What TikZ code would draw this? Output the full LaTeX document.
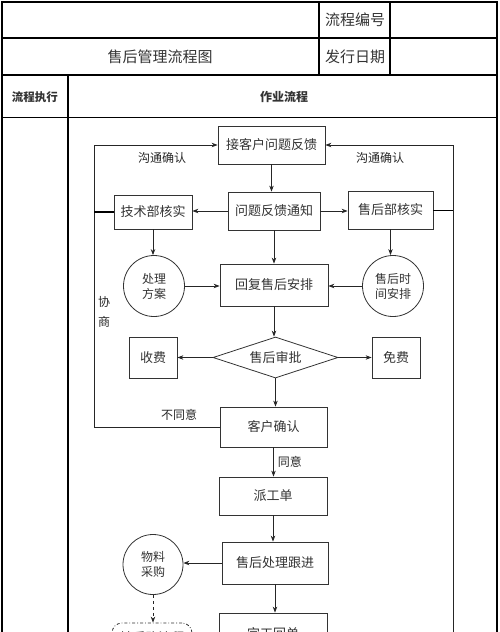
\documentclass[tikz,border=0pt]{standalone}
\usepackage{fontspec}
\setmainfont{Noto Sans CJK SC}
\usetikzlibrary{arrows.meta,shapes.geometric}
\begin{document}
\begin{tikzpicture}[x=1pt,y=-1pt,
  box/.style={draw=black!80,line width=0.8pt,rectangle,inner sep=0pt,font=\fontsize{13}{15}\selectfont,text=black!80},
  circ/.style={draw=black!80,line width=0.8pt,circle,inner sep=0pt,minimum size=61pt,align=center,font=\fontsize{12}{15}\selectfont,text=black!80},
  arr/.style={-{Stealth[length=6pt,width=4.5pt]},line width=0.8pt,draw=black!85},
  tline/.style={line width=1.5pt},
  lbl/.style={font=\fontsize{12}{14}\selectfont,text=black!85,inner sep=0pt},
  cell/.style={inner sep=0pt,text=black!80}]
\useasboundingbox (0,0) rectangle (500,632);
\clip (0,0) rectangle (500,632);
% table
\draw[tline] (2,640) -- (2,2) -- (497,2) -- (497,640);
\draw[tline] (2,38) -- (497,38);
\draw[line width=1.8pt] (2,75) -- (497,75);
\draw[line width=0.8pt] (2,117) -- (497,117);
\draw[tline] (319,2) -- (319,75);
\draw[tline] (390,2) -- (390,75);
\draw[line width=1.1pt] (68,75) -- (68,640);
\node[cell,font=\fontsize{15}{17}\selectfont] (title) at (160,57) {售后管理流程图};
\node[cell,font=\fontsize{15}{17}\selectfont] (bh) at (355,20) {流程编号};
\node[cell,font=\fontsize{15}{17}\selectfont] (rq) at (355,57) {发行日期};
\node[cell,font=\fontsize{11.5}{13}\bfseries] (zx) at (35,97) {流程执行};
\node[cell,font=\fontsize{12}{14}\bfseries] (zy) at (284,97) {作业流程};
% nodes
\node[box,minimum width=107pt,minimum height=38pt] (fk) at (271.5,145) {接客户问题反馈};
\node[box,minimum width=92pt,minimum height=38pt] (tz) at (274,211) {问题反馈通知};
\node[box,minimum width=78pt,minimum height=34pt] (js) at (153,212) {技术部核实};
\node[box,minimum width=85pt,minimum height=38pt] (sh) at (390.5,210) {售后部核实};
\node[box,minimum width=108pt,minimum height=42pt] (hf) at (274,285) {回复售后安排};
\node[circ] (fa) at (154,286) {处理\\方案};
\node[circ] (sj) at (393,286) {售后时\\间安排};
\node[box,shape=diamond,aspect=3,minimum width=125pt,minimum height=41pt] (sp) at (275.5,357.5) {售后审批};
\node[box,minimum width=48pt,minimum height=41pt] (sf) at (153,357.5) {收费};
\node[box,minimum width=48pt,minimum height=41pt] (mf) at (396,357.5) {免费};
\node[box,minimum width=107pt,minimum height=40pt] (qr) at (273.5,427) {客户确认};
\node[box,minimum width=108pt,minimum height=38pt] (pg) at (273,496) {派工单};
\node[box,minimum width=106pt,minimum height=42pt] (gj) at (275,563) {售后处理跟进};
\node[circ,minimum size=60pt] (wl) at (153,564.5) {物料\\采购};
\node[box,rounded corners=10pt,dash dot,minimum width=80pt,minimum height=30pt] (zc) at (152,638) {转采购流程};
\node[box,minimum width=108pt,minimum height=40pt] (wg) at (273,633) {完工回单};
% arrows
\draw[arr] (fk.south) -- (fk.south |- tz.north);
\draw[arr] (tz.west) -- (tz.west -| js.east);
\draw[arr] (tz.east) -- (tz.east -| sh.west);
\draw[arr] (tz.south) -- (tz.south |- hf.north);
\draw[arr] (js.south) -- (js.south |- fa.north);
\draw[arr] (sh.south) -- (sh.south |- sj.north);
\draw[arr] (fa.east) -- (fa.east -| hf.west);
\draw[arr] (sj.west) -- (sj.west -| hf.east);
\draw[arr] (hf.south) -- (hf.south |- sp.north);
\draw[arr] (sp.west) -- (sp.west -| sf.east);
\draw[arr] (sp.east) -- (sp.east -| mf.west);
\draw[arr] (sp.south) -- (sp.south |- qr.north);
\draw[arr] (qr.south) -- (qr.south |- pg.north) node[midway,right,lbl,xshift=4pt] (ty) {同意};
\draw[arr] (pg.south) -- (pg.south |- gj.north);
\draw[arr] (gj.west) -- (gj.west -| wl.east);
\draw[arr,dashed] (wl.south) -- (wl.south |- zc.north);
\draw[arr] (gj.south) -- (gj.south |- wg.north);
% loops
\coordinate (L) at (94,145);
\coordinate (R) at (453,145);
\coordinate (Rb) at (453,640);
\draw[arr] (qr.west) -| (L) -- (fk.west);
\draw[line width=1.6pt] (js.west) -- (js.west -| L);
\draw[arr] (Rb) -- (R) -- (fk.east);
\draw[line width=1pt] (sh.east) -- (sh.east -| R);
% labels
\node[lbl] (l1) at (162,158) {沟通确认};
\node[lbl] (l2) at (380,158) {沟通确认};
\node[lbl] (l3) at (179,415) {不同意};
\node[lbl] (l4) at (104,302) {协};
\node[lbl] (l5) at (104,322) {商};
\end{tikzpicture}
\end{document}
